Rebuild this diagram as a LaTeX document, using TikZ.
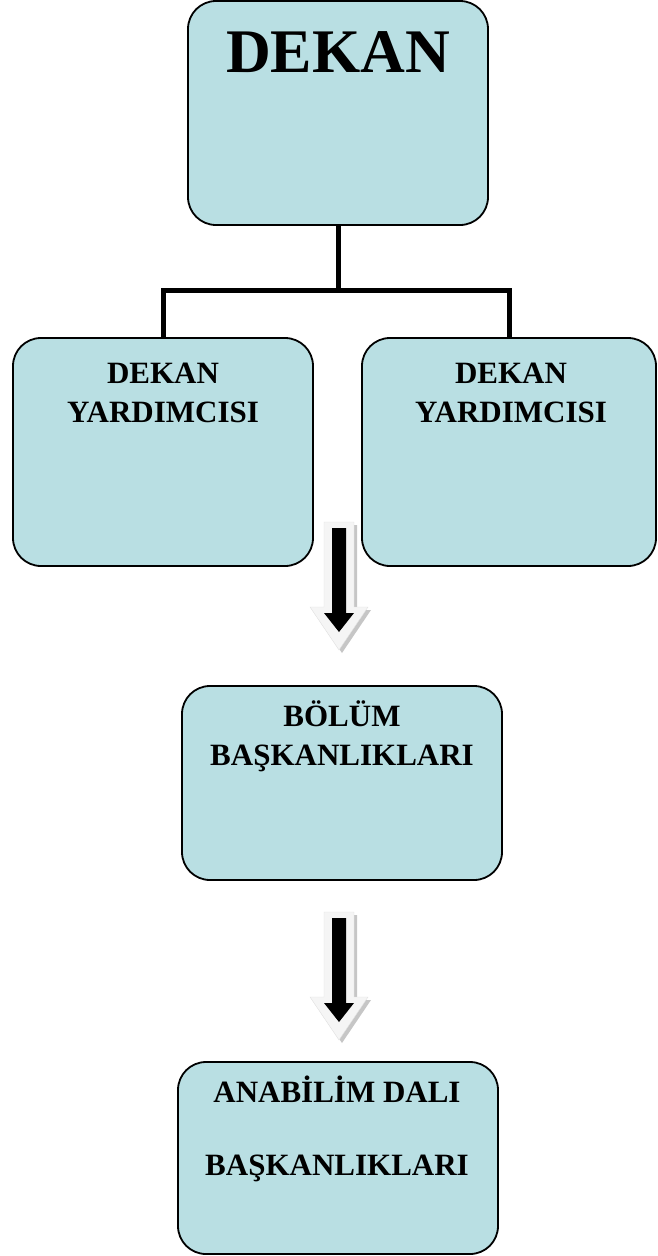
\documentclass[tikz,border=0pt]{standalone}
\usepackage{fontspec}
\setmainfont{Liberation Serif}
\definecolor{boxfill}{RGB}{185,223,227}
\tikzset{
  box/.style={draw, rounded corners=28pt, line width=1.8pt, fill=boxfill},
  boxtext/.style={anchor=base, align=center, inner sep=0pt, font=\bfseries\fontsize{31}{39}\selectfont},
  conn/.style={line width=5pt},
  downarrow/.pic={
    \fill[gray!45] (-12,3) -- (18,3) -- (18,88) -- (32,88) -- (3,131) -- (-26,88) -- (-12,88) -- cycle;
    \filldraw[fill=gray!8, draw=gray!25] (-15,0) -- (15,0) -- (15,85) -- (29,85) -- (0,128) -- (-29,85) -- (-15,85) -- cycle;
    \fill[black] (-7,6) -- (7,6) -- (7,91) -- (15,91) -- (0,110) -- (-15,91) -- (-7,91) -- cycle;
  }
}
\begin{document}
\begin{tikzpicture}[x=1pt, y=-1pt]
			\useasboundingbox (0,0) rectangle (657,1256);
			\node[box, minimum width=300pt, minimum height=224pt] (dekan) at (338,113) {};
			\node[box, minimum width=300pt, minimum height=228pt] (dyl) at (163,452) {};
			\node[box, minimum width=294pt, minimum height=228pt] (dyr) at (509,452) {};
			\node[box, minimum width=320pt, minimum height=194pt] (bolum) at (342,783) {};
			\node[box, minimum width=320pt, minimum height=192pt] (anabilim) at (338,1158) {};
			
			\node[anchor=base, inner sep=0pt, font=\bfseries\fontsize{62}{62}\selectfont] (dekantext) at (338,72) {DEKAN};
			\node[boxtext] (dyltext) at (163,422) {DEKAN\\YARDIMCISI};
			\node[boxtext] (dyrtext) at (511,422) {DEKAN\\YARDIMCISI};
			\node[boxtext] (bolumtext) at (342,765) {BÖLÜM\\BAŞKANLIKLARI};
			\node[boxtext, font=\bfseries\fontsize{31}{73}\selectfont] (anabilimtext) at (337,1175) {ANABİLİM DALI\\BAŞKANLIKLARI};
			
			\coordinate (fork) at (338,290);
			\draw[conn] (dekan.south) -- (fork);
			\foreach \to in {dyl,dyr}
			\draw[conn] (fork) -| (\to.north);
			
			\foreach \ytop in {522,912}
			\pic at (339,\ytop) {downarrow};
			\end{tikzpicture}
\end{document}
